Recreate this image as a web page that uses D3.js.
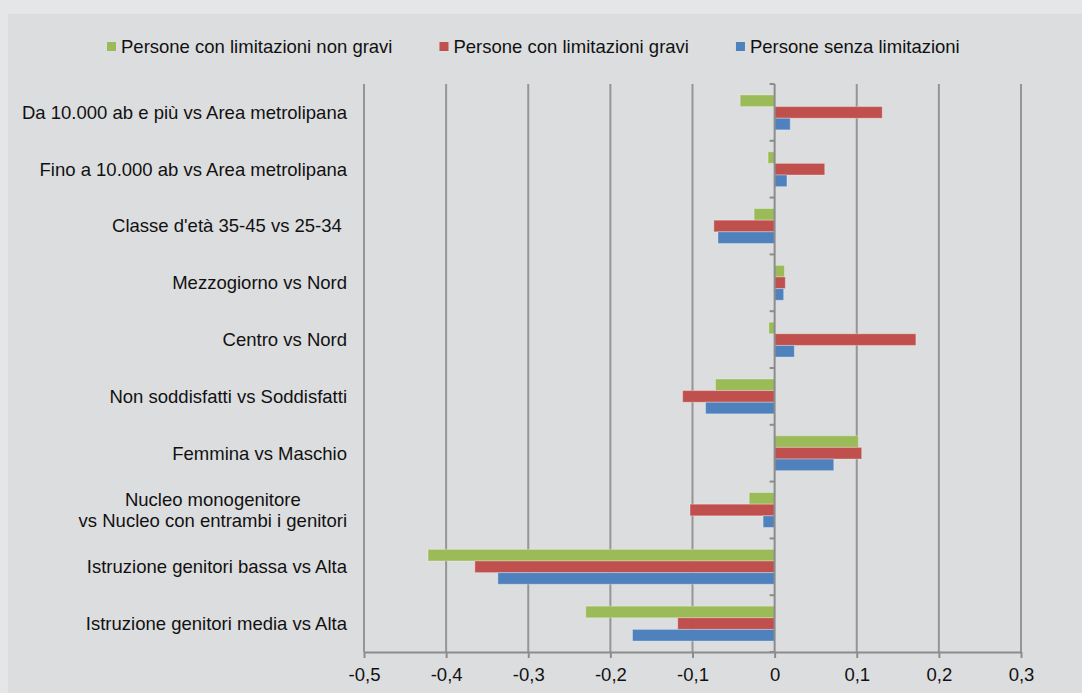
<!DOCTYPE html>
<html>
<head>
<meta charset="utf-8">
<script src="https://cdn.jsdelivr.net/npm/d3@7"></script>
<style>
  html, body { margin: 0; padding: 0; background: #e5e6e8; }
  svg { display: block; }
  text { font-family: "Liberation Sans", Arial, sans-serif; fill: #111; }
</style>
</head>
<body>
<svg id="chart" width="1082" height="693"></svg>
<script>
const categories = [
  ["Da 10.000 ab e più vs Area metrolipana"],
  ["Fino a 10.000 ab vs Area metrolipana"],
  ["Classe d'età 35-45 vs 25-34 "],
  ["Mezzogiorno vs Nord"],
  ["Centro vs Nord"],
  ["Non soddisfatti vs Soddisfatti"],
  ["Femmina vs Maschio"],
  ["Nucleo monogenitore", "vs Nucleo con entrambi i genitori"],
  ["Istruzione genitori bassa vs Alta"],
  ["Istruzione genitori media vs Alta"]
];
const seriesNames = ["Persone con limitazioni non gravi", "Persone con limitazioni gravi", "Persone senza limitazioni"];
const seriesColors = ["#9bbb59", "#c0504d", "#4f81bd"];
const nonGravi = [-0.042, -0.008, -0.025, 0.012, -0.007, -0.072, 0.102, -0.031, -0.422, -0.230];
const gravi    = [ 0.131,  0.061, -0.074, 0.013,  0.172, -0.112, 0.106, -0.103, -0.365, -0.118];
const senza    = [ 0.019,  0.015, -0.069, 0.011,  0.024, -0.084, 0.072, -0.014, -0.337, -0.173];
const tickValues = [-0.5, -0.4, -0.3, -0.2, -0.1, 0, 0.1, 0.2, 0.3];
const tickLabels = ["-0,5", "-0,4", "-0,3", "-0,2", "-0,1", "0", "0,1", "0,2", "0,3"];

const seriesValues = [nonGravi, gravi, senza];
const catKeys = categories.map(c => c.join(" "));

const svg = d3.select("#chart");
const FS = 18.5;

// inner panel
svg.append("rect").attr("x", 8).attr("y", 14).attr("width", 1074).attr("height", 679).attr("fill", "#dcdddf");

const plot = { left: 364, right: 1021, top: 84, bottom: 652 };
const x = d3.scaleLinear().domain([-0.5, 0.3]).range([plot.left, plot.right]);
const y0 = d3.scaleBand().domain(catKeys).range([plot.top, plot.bottom]);
const y1 = d3.scaleBand().domain(seriesNames).range([0, y0.bandwidth()]).paddingOuter(0.942);

// gridlines
svg.append("g").selectAll("line").data(tickValues.filter(v => v !== 0)).join("line")
  .attr("x1", d => x(d)).attr("x2", d => x(d))
  .attr("y1", plot.top).attr("y2", plot.bottom)
  .attr("stroke", "#959595").attr("stroke-width", 2);

// bars
const rows = [];
catKeys.forEach((k, i) => seriesNames.forEach((s, j) => rows.push({ cat: k, s, j, v: seriesValues[j][i] })));
svg.append("g").selectAll("rect").data(rows).join("rect")
  .attr("x", d => x(Math.min(0, d.v)))
  .attr("width", d => Math.abs(x(d.v) - x(0)))
  .attr("y", d => y0(d.cat) + y1(d.s))
  .attr("height", y1.bandwidth())
  .attr("fill", d => seriesColors[d.j])
  .attr("stroke", "rgba(255,255,255,0.3)").attr("stroke-width", 1);

// bottom axis
const xAxis = d3.axisBottom(x).tickValues(tickValues).tickFormat((d, i) => tickLabels[i]).tickSize(6).tickSizeOuter(0);
const gx = svg.append("g").attr("transform", `translate(0,${plot.bottom})`).call(xAxis);
gx.select(".domain").attr("stroke", "#8c8c8c").attr("stroke-width", 2);
gx.selectAll(".tick line").attr("stroke", "#8c8c8c").attr("stroke-width", 2);
gx.selectAll(".tick text").attr("font-size", FS).attr("font-family", "Liberation Sans, Arial, sans-serif")
  .attr("fill", "#111").attr("y", 16).attr("dy", "0.71em");

// zero axis with category ticks
const boundaries = catKeys.map(k => y0(k)).concat([plot.bottom]);
svg.append("g").selectAll("line").data(boundaries).join("line")
  .attr("x1", x(0) - 5).attr("x2", x(0))
  .attr("y1", d => d).attr("y2", d => d)
  .attr("stroke", "#8c8c8c").attr("stroke-width", 2);
svg.append("line").attr("x1", x(0)).attr("x2", x(0)).attr("y1", plot.top).attr("y2", plot.bottom)
  .attr("stroke", "#8c8c8c").attr("stroke-width", 2);

// category labels
const labelRight = 347;
const lab = svg.append("g").selectAll("text").data(categories).join("text")
  .attr("x", labelRight)
  .attr("y", (d, i) => y0(catKeys[i]) + y0.bandwidth() / 2)
  .attr("text-anchor", "end")
  .attr("font-size", FS)
  .style("white-space", "pre");
lab.each(function(d) {
  const t = d3.select(this);
  const lh = 20.5;
  const spans = d.map((line, li) => t.append("tspan").attr("x", labelRight)
      .attr("dy", li === 0 ? (0.35 * FS - (d.length - 1) * lh / 2) : lh)
      .text(line));
  if (d.length > 1) {
    const wmax = d3.max(spans, s => s.node().getComputedTextLength());
    t.attr("text-anchor", "middle");
    spans.forEach(s => s.attr("x", labelRight - wmax / 2));
  }
});

// legend
const leg = svg.append("g");
let lx = 107;
seriesNames.forEach((s, j) => {
  leg.append("rect").attr("x", lx).attr("y", 42).attr("width", 9).attr("height", 9).attr("fill", seriesColors[j]);
  const t = leg.append("text").attr("x", lx + 14).attr("y", 52.7).attr("font-size", FS).text(s);
  lx = lx + 14 + t.node().getComputedTextLength() + 47;
});
</script>
</body>
</html>
